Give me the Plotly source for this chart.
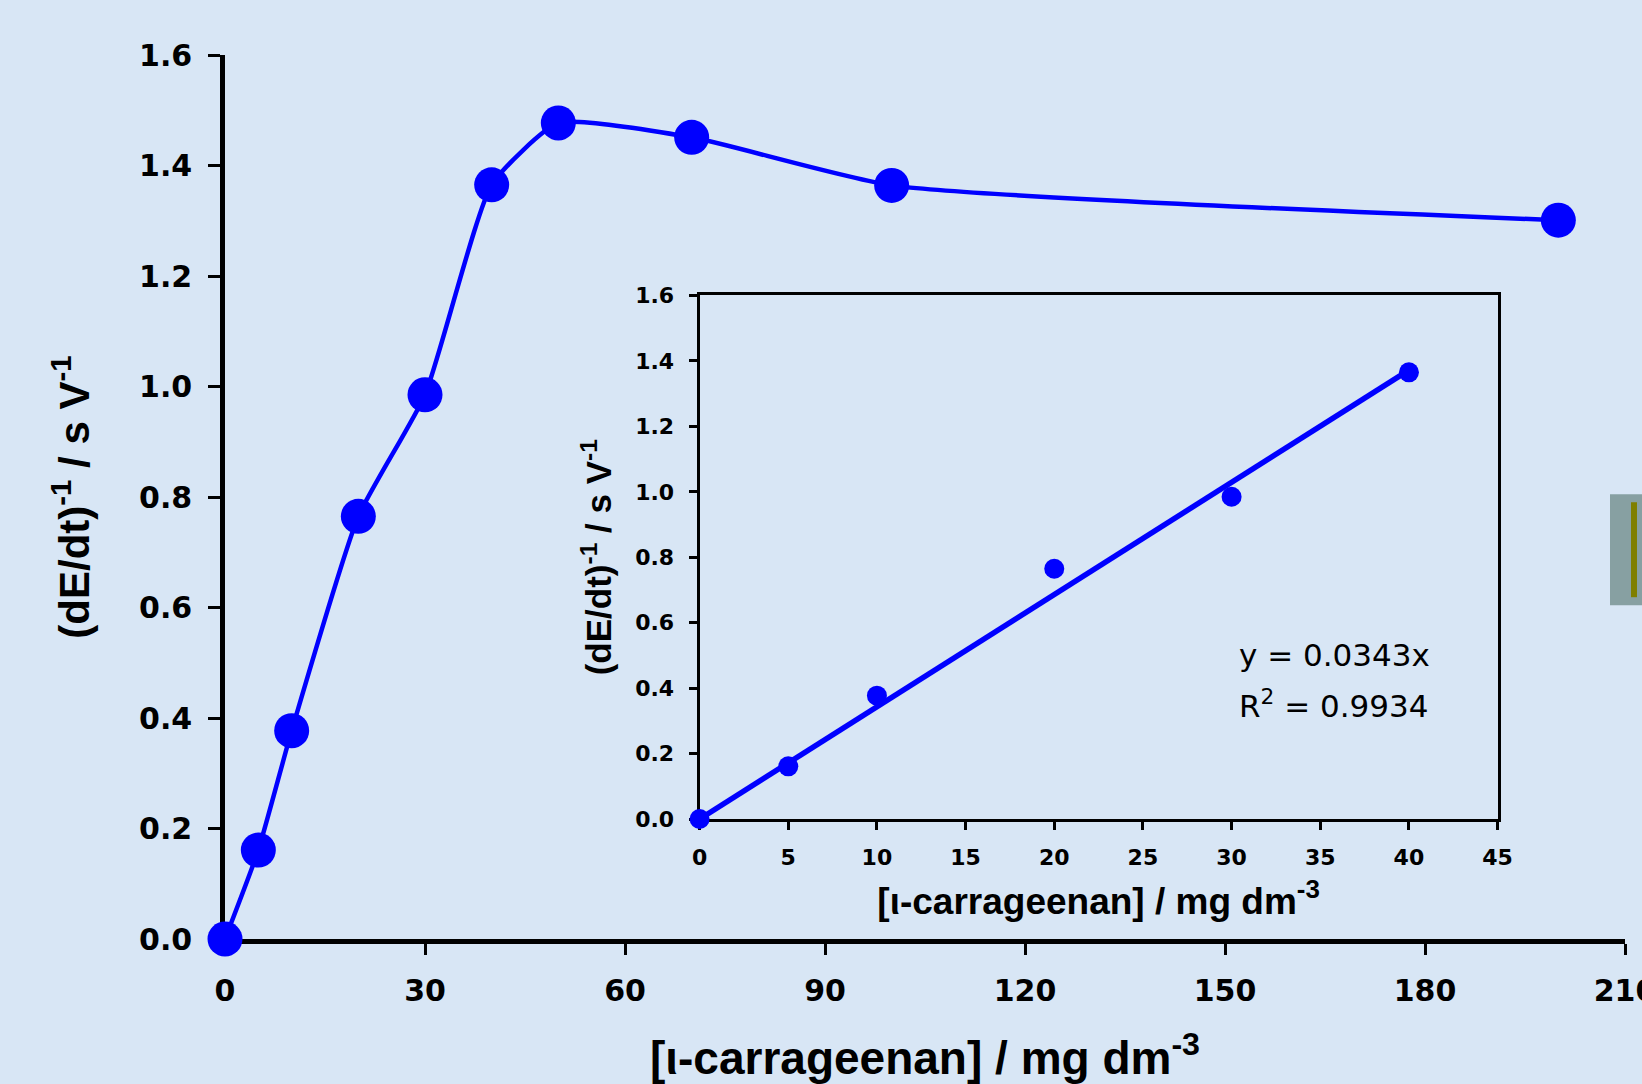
import plotly.graph_objects as go

# ---- data ----
conc = [0, 5, 10, 20, 30, 40, 50, 70, 100, 200]
rate = [0.0, 0.161, 0.377, 0.765, 0.985, 1.365, 1.477, 1.451, 1.364, 1.301]

inset_conc = [0, 5, 10, 20, 30, 40]
inset_rate = [0.0, 0.161, 0.377, 0.765, 0.985, 1.365]
fit_slope = 0.0343
fit_r2 = 0.9934
fit_x = [0, 40]

main_xticks = [0, 30, 60, 90, 120, 150, 180, 210]
main_yticks = [0.0, 0.2, 0.4, 0.6, 0.8, 1.0, 1.2, 1.4, 1.6]
inset_xticks = [0, 5, 10, 15, 20, 25, 30, 35, 40, 45]

BLUE = "#0000ff"
BG = "#d8e6f5"
FONT = "Liberation Sans"
TFONT = "DejaVu Sans"

fig = go.Figure()

fig.add_trace(go.Scatter(
    x=conc, y=rate, mode="lines+markers",
    line=dict(color=BLUE, width=4.5, shape="spline", smoothing=0.5),
    marker=dict(color=BLUE, size=35),
    cliponaxis=False, showlegend=False, xaxis="x", yaxis="y"))

fig.add_trace(go.Scatter(
    x=fit_x, y=[fit_slope * v for v in fit_x], mode="lines",
    line=dict(color=BLUE, width=5.5),
    cliponaxis=False, showlegend=False, xaxis="x2", yaxis="y2"))

fig.add_trace(go.Scatter(
    x=inset_conc, y=inset_rate, mode="markers",
    marker=dict(color=BLUE, size=20),
    cliponaxis=False, showlegend=False, xaxis="x2", yaxis="y2"))

tick_font = dict(family=TFONT, size=30, color="black", weight="bold")
inset_tick_font = dict(family=TFONT, size=22, color="black", weight="bold")

fig.update_layout(
    width=1642, height=1084,
    margin=dict(l=225, r=17, t=54.5, b=145, autoexpand=False),
    paper_bgcolor=BG, plot_bgcolor=BG,
    xaxis=dict(
        domain=[0, 1], range=[0, 210], tickvals=main_xticks,
        showgrid=False, zeroline=False, showline=True, linecolor="black", linewidth=4.5,
        ticks="outside", ticklen=11, tickwidth=3, tickcolor="black",
        tickfont=tick_font, ticklabelstandoff=10, layer="below traces",
        automargin=False, ticklabeloverflow="allow",
        title=dict(text="[ι-carrageenan] / mg dm<sup>-3</sup>",
                   font=dict(family=FONT, size=46, color="black", weight="bold"),
                   standoff=37),
    ),
    yaxis=dict(
        domain=[0, 1], range=[0, 1.6], tickvals=main_yticks, tickformat=".1f",
        showgrid=False, zeroline=False, showline=True, linecolor="black", linewidth=4.5,
        ticks="outside", ticklen=12, tickwidth=3, tickcolor="black",
        tickfont=tick_font, ticklabelstandoff=10, layer="below traces",
        automargin=False,
        title=dict(text="(dE/dt)<sup>-1</sup> / s V<sup>-1</sup>",
                   font=dict(family=FONT, size=42, color="black", weight="bold"),
                   standoff=38),
    ),
    xaxis2=dict(
        domain=[0.339, 0.909], range=[0, 45], tickvals=inset_xticks, anchor="y2",
        showgrid=False, zeroline=False, showline=True, mirror=True,
        linecolor="black", linewidth=3,
        ticks="outside", ticklen=8, tickwidth=2.5, tickcolor="black",
        tickfont=inset_tick_font, ticklabelstandoff=9, layer="below traces",
        automargin=False,
        title=dict(text="[ι-carrageenan] / mg dm<sup>-3</sup>",
                   font=dict(family=FONT, size=37, color="black", weight="bold"),
                   standoff=19),
    ),
    yaxis2=dict(
        domain=[0.1357, 0.728], range=[0, 1.6], tickvals=main_yticks, tickformat=".1f",
        anchor="x2",
        showgrid=False, zeroline=False, showline=True, mirror=True,
        linecolor="black", linewidth=3,
        ticks="outside", ticklen=8, tickwidth=2.5, tickcolor="black",
        tickfont=inset_tick_font, ticklabelstandoff=10, layer="below traces",
        automargin=False,
        title=dict(text="(dE/dt)<sup>-1</sup> / s V<sup>-1</sup>",
                   font=dict(family=FONT, size=35, color="black", weight="bold"),
                   standoff=13),
    ),
    annotations=[
        dict(text=f"y = {fit_slope}x", xref="x2", yref="y2", x=30.3, y=0.50,
             xanchor="left", yanchor="middle", showarrow=False,
             font=dict(family="DejaVu Sans", size=31, color="black")),
        dict(text=f"R<sup>2</sup> = {fit_r2}", xref="x2", yref="y2", x=30.3, y=0.351,
             xanchor="left", yanchor="middle", showarrow=False,
             font=dict(family="DejaVu Sans", size=31, color="black")),
    ],
    shapes=[
        dict(type="rect", xref="paper", yref="paper",
             x0=(1610 - 225) / 1400, x1=(1660 - 225) / 1400,
             y0=(939 - 605) / 884.5, y1=(939 - 494) / 884.5,
             fillcolor="#87a0a2", line=dict(width=0), layer="above"),
        dict(type="rect", xref="paper", yref="paper",
             x0=(1631 - 225) / 1400, x1=(1637 - 225) / 1400,
             y0=(939 - 597) / 884.5, y1=(939 - 502) / 884.5,
             fillcolor="#7f7f00", line=dict(width=0), layer="above"),
    ],
)

fig.write_html("out.html", config={"displayModeBar": False},
               post_script="document.body.style.margin='0';document.body.style.overflow='hidden';")
